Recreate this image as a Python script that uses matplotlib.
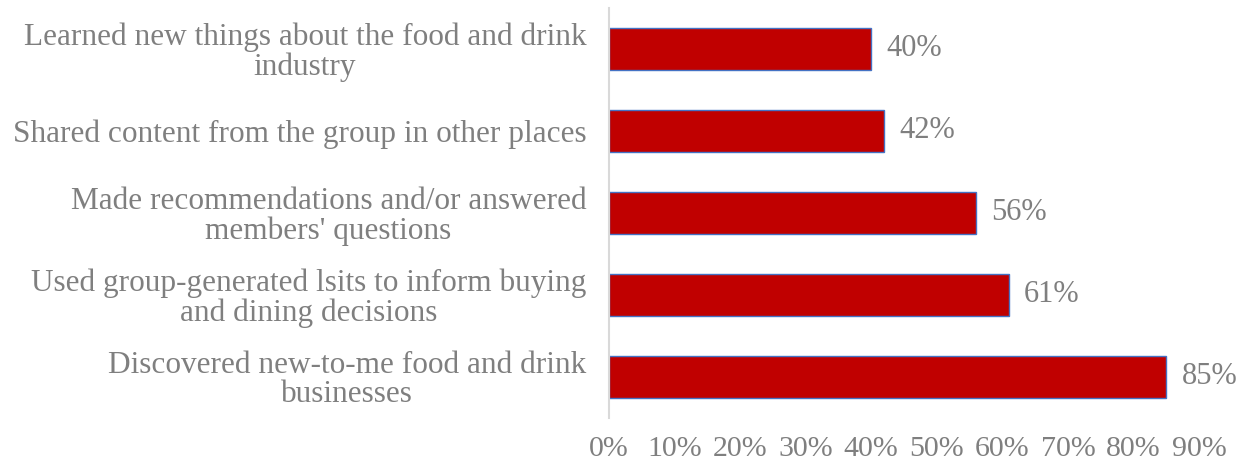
import matplotlib
matplotlib.use("Agg")
import matplotlib.pyplot as plt
from matplotlib.ticker import FixedLocator, FuncFormatter

categories = [
    "Learned new things about the food and drink\nindustry",
    "Shared content from the group in other places",
    "Made recommendations and/or answered\nmembers' questions",
    "Used group-generated lsits to inform buying\nand dining decisions",
    "Discovered new-to-me food and drink\nbusinesses",
]
values = [0.40, 0.42, 0.56, 0.61, 0.85]
xticks = [0.0, 0.1, 0.2, 0.3, 0.4, 0.5, 0.6, 0.7, 0.8, 0.9]

GRAY = "#7F7F7F"
plt.rcParams["font.family"] = ["Liberation Serif", "DejaVu Serif"]

fig = plt.figure(figsize=(12.44, 4.68), dpi=100)
ax = fig.add_axes([0.4896, 0.107, 0.4742, 0.876])

ypos = list(range(len(categories)))
ax.barh(ypos, values, height=0.51, color="#C00000", edgecolor="#4472C4", linewidth=1.0)

# value labels just past the end of each bar
for y, v in zip(ypos, values):
    ax.annotate(f"{v:.0%}", (v, y), xytext=(11, 0), textcoords="offset points",
                va="center", ha="left", fontsize=22, color=GRAY)

ax.set_ylim(len(categories) - 0.5, -0.5)
ax.set_xlim(0, 0.9)
ax.set_yticks(ypos)
ax.set_yticklabels(categories, fontsize=22.5, color=GRAY,
                   multialignment="center", linespacing=1.0)
ax.xaxis.set_major_locator(FixedLocator(xticks))
ax.xaxis.set_major_formatter(FuncFormatter(lambda x, _: f"{x:.0%}"))
ax.tick_params(axis="x", labelsize=21.5, colors=GRAY, length=0, pad=13)
ax.tick_params(axis="y", length=0, pad=16.5)

for side in ["top", "right", "bottom"]:
    ax.spines[side].set_visible(False)
ax.spines["left"].set_color("#D9D9D9")
ax.spines["left"].set_linewidth(1.5)

fig.savefig("out.png", dpi=100)
